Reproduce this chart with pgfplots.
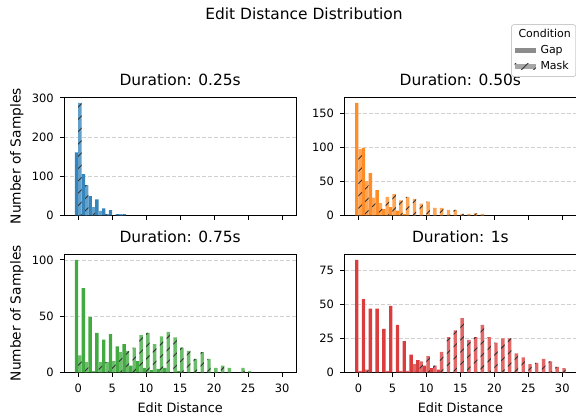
\documentclass[border=0pt]{standalone}
\usepackage{fontspec}
\setmainfont{DejaVu Sans}
\usepackage{pgfplots}
\pgfplotsset{compat=1.18}
\usetikzlibrary{patterns.meta}

\definecolor{tblue}{HTML}{1F77B4}
\definecolor{torange}{HTML}{FF7F0E}
\definecolor{tgreen}{HTML}{2CA02C}
\definecolor{tred}{HTML}{D62728}
\definecolor{hatchc}{gray}{0.2}

\newcommand\tickfont{\fontsize{11.5}{13}\selectfont}
\newcommand\labfont{\fontsize{12.9}{15}\selectfont}
\newcommand\ylabfont{\fontsize{13.8}{16}\selectfont}
\newcommand\titfont{\fontsize{15.5}{18}\selectfont}
\newcommand\legfont{\fontsize{11}{13}\selectfont}

\pgfplotsset{
  panel/.style={
    scale only axis, width=231.7bp, height=118bp,
    xmin=-2.05, xmax=32.05, ymin=0,
    xtick={0,5,...,30},
    axis line style={line width=0.9bp, black},
    tick align=outside, tick pos=left,
    major tick length=4.5bp,
    every tick/.style={black, line width=0.9bp},
    ymajorgrids,
    major grid style={black!18, line width=0.8bp, dash pattern=on 4bp off 2bp},
    /pgf/number format/assume math mode=true,
    tick label style={font=\tickfont},
    xticklabel style={yshift=-3.5bp},
    yticklabel style={xshift=-2.5bp},
    title style={font=\titfont, at={(axis description cs:0.5,1)}, anchor=base, yshift=5.6bp},
    every axis x label/.style={at={([yshift=-40.4bp]axis description cs:0.5,0)}, anchor=base, font=\labfont},
    every axis y label/.style={at={([xshift=-43.6bp]axis description cs:0,0.5)}, rotate=90, anchor=base, font=\ylabfont},
  },
  gapbar/.style={ybar, bar width=0.5, bar shift=-0.25, draw=none, fill=#1!90!white, forget plot},
  maskbar/.style={ybar, bar width=0.5, bar shift=0.25, draw=none, fill=#1!70!white, forget plot,
    postaction={pattern color=hatchc, pattern={Lines[angle=45,distance=8.7bp,line width=0.9bp]}}},
}

\begin{document}
\begin{tikzpicture}
\useasboundingbox (0bp,0bp) rectangle (576bp,419bp);
\node[font=\titfont, anchor=base] at (304bp,399.3bp) {Edit Distance Distribution};

% Duration 0.25s
\begin{axis}[panel, at={(64.3bp,203.7bp)}, anchor=south west,
  ymax=301.5, ytick={0,100,200,300}, xticklabels={},
  title={Duration: 0.25s}, ylabel={Number of Samples}]
\addplot[gapbar=tblue] coordinates {(0,161)(1,105)(2,49)(3,41)(4,18)(5,13)(6,3)(7,3)};
\addplot[maskbar=tblue] coordinates {(0,287)(1,77)(2,21)(3,11)(4,3)(6,3)};
\end{axis}

% Duration 0.50s
\begin{axis}[panel, at={(344.5bp,203.7bp)}, anchor=south west,
  ymax=173.25, ytick={0,50,100,150}, xticklabels={},
  title={Duration: 0.50s},
  legend cell align=left,
  legend style={at={([yshift=20.3bp]axis description cs:1,1)}, anchor=south east,
    font=\legfont, draw=black!20, line width=0.8bp, rounded corners=2.5bp,
    inner xsep=3bp, inner ysep=2bp, row sep=0bp, column sep=3bp,
    nodes={inner sep=2bp, text height=9bp, text depth=3bp}}]
\addplot[gapbar=torange] coordinates {(0,165)(1,99)(2,62)(3,37)(4,9)(5,12)(6,7)(7,2)};
\addplot[maskbar=torange] coordinates {(0,97)(1,50)(2,26)(3,18)(4,27)(5,31)(6,22)(7,27)(8,24)(9,17)(10,20)(11,11)(12,11)(13,8)(14,8)(15,2)(16,2)(17,3)(18,2)};
\addlegendimage{empty legend}
\addlegendentry{\hspace*{-22bp}Condition}
\addlegendimage{legend image code/.code={\path[draw=none, sharp corners, fill=gray!90!white] (0bp,-2.75bp) rectangle (21bp,2.75bp);}}
\addlegendentry{Gap}
\addlegendimage{legend image code/.code={\path[draw=none, sharp corners, fill=gray!70!white, postaction={draw=none, pattern color=hatchc, pattern={Lines[angle=45,distance=8.7bp,line width=0.9bp]}}] (0bp,-2.75bp) rectangle (21bp,2.75bp);}}
\addlegendentry{Mask}
\end{axis}

% Duration 0.75s
\begin{axis}[panel, at={(64.3bp,46.7bp)}, anchor=south west,
  ymax=105, ytick={0,50,100},
  title={Duration: 0.75s}, xlabel={Edit Distance}, ylabel={Number of Samples}]
\addplot[gapbar=tgreen] coordinates {(0,100)(1,75)(2,49)(3,35)(4,29)(5,34)(6,23)(7,25)(8,6)(9,10)(10,4)(11,2)(12,3)(13,4)(15,1)};
\addplot[maskbar=tgreen] coordinates {(0,15)(1,9)(2,1)(3,9)(4,9)(5,10)(6,18)(7,19)(8,22)(9,33)(10,35)(11,25)(12,32)(13,36)(14,31)(15,22)(16,19)(17,12)(18,18)(19,12)(20,4)(21,6)(22,4)(24,4)(25,1)};
\end{axis}

% Duration 1s
\begin{axis}[panel, at={(344.5bp,46.7bp)}, anchor=south west,
  ymax=87.15, ytick={0,25,50,75},
  title={Duration: 1s}, xlabel={Edit Distance}]
\addplot[gapbar=tred] coordinates {(0,83)(1,54)(2,47)(3,47)(4,32)(5,49)(6,35)(7,23)(8,13)(9,9)(10,5)(11,3)(12,2)};
\addplot[maskbar=tred] coordinates {(0,1)(1,2)(4,1)(6,1)(7,1)(8,6)(9,8)(10,12)(11,5)(12,15)(13,26)(14,31)(15,40)(16,24)(17,26)(18,35)(19,26)(20,22)(21,25)(22,25)(23,14)(24,11)(25,6)(26,7)(27,10)(28,8)(29,4)(30,3)};
\end{axis}
\end{tikzpicture}
\end{document}
